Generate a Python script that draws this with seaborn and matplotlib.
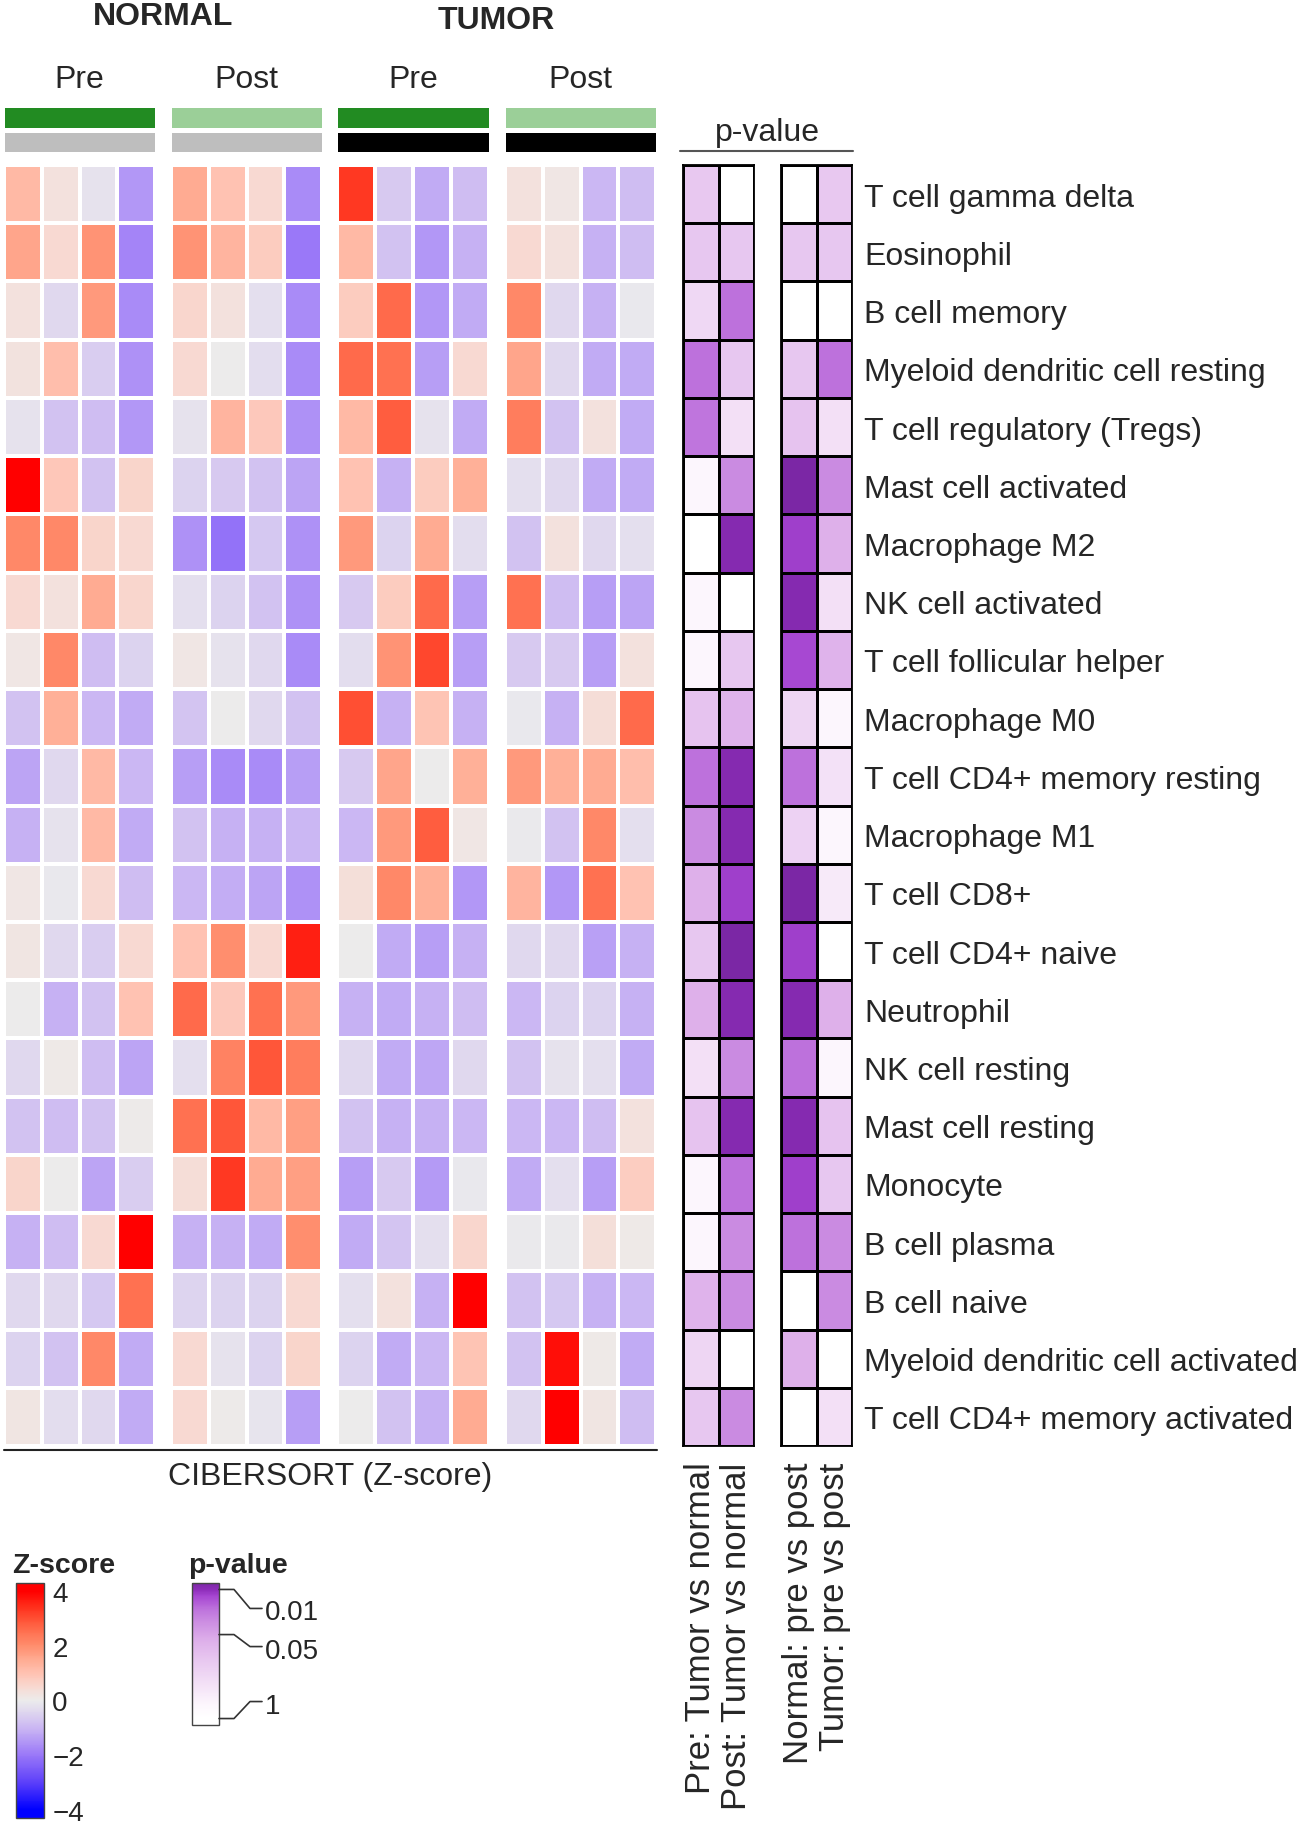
import matplotlib

matplotlib.use("Agg")

import matplotlib.pyplot as plt
import numpy as np
import seaborn as sns
from matplotlib.cm import ScalarMappable
from matplotlib.colors import LinearSegmentedColormap, ListedColormap, Normalize

sns.set_style("white")
plt.rcParams["font.family"] = ["Liberation Sans", "DejaVu Sans"]

W, H = 1304, 1824

# =========================
# Data
# =========================

cell_types = [
    "T cell gamma delta", "Eosinophil", "B cell memory",
    "Myeloid dendritic cell resting", "T cell regulatory (Tregs)",
    "Mast cell activated", "Macrophage M2", "NK cell activated",
    "T cell follicular helper", "Macrophage M0",
    "T cell CD4+ memory resting", "Macrophage M1", "T cell CD8+",
    "T cell CD4+ naive", "Neutrophil", "NK cell resting",
    "Mast cell resting", "Monocyte", "B cell plasma", "B cell naive",
    "Myeloid dendritic cell activated", "T cell CD4+ memory activated",
]

tissues = ["NORMAL", "NORMAL", "TUMOR", "TUMOR"]
timepoints = ["Pre", "Post", "Pre", "Post"]

# CIBERSORT z-scores, 4 samples per group
normal_pre = [
    [1.2, 0.3, -0.2, -1.5], [1.6, 0.5, 1.9, -1.8], [0.3, -0.4, 1.8, -1.7],
    [0.25, 1.1, -0.6, -1.6], [-0.2, -0.8, -0.9, -1.5], [4.0, 0.9, -0.8, 0.6],
    [2.1, 2.1, 0.6, 0.5], [0.5, 0.3, 1.5, 0.55], [0.15, 2.1, -0.9, -0.5],
    [-0.8, 1.4, -1.0, -1.2], [-1.3, -0.4, 1.2, -1.0], [-1.1, -0.2, 1.2, -1.2],
    [0.15, -0.1, 0.5, -0.9], [0.2, -0.4, -0.6, 0.5], [0.0, -1.1, -0.8, 1.0],
    [-0.4, 0.1, -0.9, -1.3], [-0.8, -0.9, -0.8, 0.05], [0.6, 0.0, -1.3, -0.6],
    [-1.1, -0.9, 0.5, 4.0], [-0.4, -0.4, -0.7, 2.5], [-0.5, -0.8, 2.1, -1.2],
    [0.2, -0.3, -0.4, -1.2],
]
normal_post = [
    [1.5, 1.0, 0.5, -1.7], [1.9, 1.3, 0.8, -2.0], [0.55, 0.3, -0.25, -1.7],
    [0.5, 0.0, -0.3, -1.7], [-0.2, 1.3, 0.85, -1.6], [-0.5, -0.65, -0.8, -1.3],
    [-1.6, -2.1, -0.7, -1.6], [-0.25, -0.5, -0.8, -1.6], [0.15, -0.2, -0.4, -1.7],
    [-0.75, 0.0, -0.4, -0.8], [-1.4, -1.7, -1.7, -1.4], [-0.8, -1.1, -1.1, -1.0],
    [-1.0, -1.15, -1.3, -1.6], [1.0, 2.0, 0.5, 3.6], [2.6, 0.85, 2.5, 1.8],
    [-0.25, 2.2, 2.9, 2.3], [2.5, 2.9, 1.2, 1.7], [0.4, 3.3, 1.5, 1.7],
    [-1.1, -1.1, -1.2, 2.0], [-0.45, -0.5, -0.5, 0.5], [0.5, -0.2, -0.5, 0.6],
    [0.5, 0.05, -0.15, -1.4],
]
tumor_pre = [
    [3.3, -0.65, -1.2, -0.9], [1.2, -0.8, -1.5, -1.1], [0.8, 2.6, -1.5, -1.2],
    [2.6, 2.5, -1.4, 0.5], [1.2, 2.8, -0.2, -1.2], [1.0, -1.1, 0.8, 1.4],
    [1.8, -0.5, 1.5, -0.3], [-0.65, 0.8, 2.6, -1.4], [-0.3, 1.9, 3.1, -1.4],
    [3.0, -1.1, 0.95, -1.1], [-0.65, 1.6, 0.0, 1.4], [-1.0, 1.8, 2.8, 0.15],
    [0.35, 2.1, 1.4, -1.5], [0.0, -1.2, -1.4, -1.1], [-1.1, -1.2, -1.1, -0.9],
    [-0.4, -1.2, -1.25, -0.4], [-0.8, -1.1, -1.1, -1.0], [-1.4, -0.65, -1.45, -0.1],
    [-1.2, -0.75, -0.25, 0.55], [-0.25, 0.3, -1.1, 4.0], [-0.5, -1.2, -1.0, 0.95],
    [0.0, -0.8, -1.1, 1.5],
]
tumor_post = [
    [0.3, 0.15, -1.0, -0.9], [0.5, 0.3, -1.1, -0.9], [2.1, -0.4, -1.1, -0.1],
    [1.6, -0.4, -1.2, -1.2], [2.3, -0.8, 0.3, -1.2], [-0.25, -0.4, -1.2, -1.2],
    [-0.8, 0.3, -0.4, -0.25], [2.5, -0.9, -1.4, -1.3], [-0.65, -0.65, -1.4, 0.3],
    [-0.1, -1.1, 0.4, 2.6], [1.8, 1.4, 1.5, 1.1], [-0.05, -0.8, 2.1, -0.25],
    [1.3, -1.5, 2.5, 1.0], [-0.4, -0.4, -1.35, -1.1], [-1.0, -0.5, -0.5, -1.1],
    [-0.8, -0.2, -0.25, -1.2], [-1.0, -1.0, -0.9, 0.3], [-1.2, -0.25, -1.4, 0.75],
    [-0.05, -0.05, 0.35, 0.1], [-0.8, -0.7, -1.1, -1.0], [-0.8, 3.8, 0.1, -1.2],
    [-0.4, 4.0, 0.2, -0.9],
]
groups = [normal_pre, normal_post, tumor_pre, tumor_post]

# p-values of the four comparisons
comparisons = ["Pre: Tumor vs normal", "Post: Tumor vs normal",
               "Normal: pre vs post", "Tumor: pre vs post"]
p_pre_tumor_vs_normal = [
    0.126, 0.12, 0.22, 0.02, 0.021, 0.6, 1, 0.6, 0.6, 0.11, 0.02,
    0.03, 0.063, 0.12, 0.063, 0.28, 0.11, 0.6, 0.6, 0.07, 0.2, 0.12,
]
p_post_tumor_vs_normal = [
    1, 0.12, 0.02, 0.12, 0.28, 0.03, 0.009, 1, 0.12, 0.07, 0.009,
    0.009, 0.012, 0.007, 0.009, 0.03, 0.009, 0.02, 0.03, 0.03, 1, 0.03,
]
p_normal_pre_vs_post = [
    1, 0.12, 1, 0.12, 0.11, 0.006, 0.012, 0.009, 0.013, 0.2, 0.02,
    0.18, 0.007, 0.012, 0.009, 0.02, 0.009, 0.012, 0.02, 1, 0.063, 1,
]
p_tumor_pre_vs_post = [
    0.126, 0.12, 1, 0.02, 0.28, 0.03, 0.063, 0.28, 0.07, 0.6, 0.3,
    0.6, 0.4, 1, 0.063, 0.6, 0.11, 0.12, 0.03, 0.03, 1, 0.28,
]
p_ticks = [0.01, 0.05, 1]

# =========================
# Colour scales
# =========================

z_min, z_max = -4.3, 4.3
z_anchors = [
    (-4.3, "#0000ff"), (-4, "#0000ff"), (-3, "#5d40fa"), (-2, "#9a78f8"),
    (-1, "#cbb7f3"), (-0.5, "#dcd2ef"), (0, "#ececec"), (0.5, "#f8d9d1"),
    (1, "#ffc2b2"), (1.5, "#ffab92"), (2, "#ff8e6e"), (2.5, "#ff7252"),
    (3, "#ff5034"), (3.5, "#ff2a18"), (4, "#ff0000"), (4.3, "#ff0000"),
]
z_cmap = LinearSegmentedColormap.from_list(
    "zscore", [((v - z_min) / (z_max - z_min), c) for v, c in z_anchors])

p_min, p_max = -0.1, 2.1  # in -log10(p)
p_anchors = [
    (-0.1, "#ffffff"), (0, "#ffffff"), (0.2, "#fdf7fd"), (0.6, "#f1dcf5"),
    (0.9, "#e8c8f0"), (1.2, "#deb0ea"), (1.5, "#cc8ee2"), (1.7, "#bd72dc"),
    (1.9, "#a646d2"), (2.0, "#8e2dba"), (2.1, "#7b27a5"),
]
p_cmap = LinearSegmentedColormap.from_list(
    "pval", [((v - p_min) / (p_max - p_min), c) for v, c in p_anchors])

annot_cmap = ListedColormap(["#228b22", "#9bcf98", "#bebebe", "#000000"])


def box(x0, y0, x1, y1):
    return [x0 / W, 1 - y1 / H, (x1 - x0) / W, (y1 - y0) / H]


fig = plt.figure(figsize=(W / 100, H / 100), dpi=100)

top, bottom = 166, 1447
group_x = [(4, 155), (171, 322), (337, 489), (505, 656)]

# =========================
# Z-score heatmaps
# =========================

for (x0, x1), vals, tissue, tp in zip(group_x, groups, tissues, timepoints):
    ax = fig.add_axes(box(x0, top, x1, bottom))
    sns.heatmap(np.array(vals), ax=ax, cmap=z_cmap, vmin=z_min, vmax=z_max,
                cbar=False, linewidths=1.5, linecolor="white",
                xticklabels=False, yticklabels=False)

    # annotation bars (timepoint + tissue)
    codes = np.array([[0 if tp == "Pre" else 1], [2 if tissue == "NORMAL" else 3]])
    ax_a = fig.add_axes(box(x0 - 2, 106, x1 + 2, 155))
    sns.heatmap(codes, ax=ax_a, cmap=annot_cmap, vmin=-0.5, vmax=3.5, cbar=False,
                linewidths=3.5, linecolor="white",
                xticklabels=False, yticklabels=False)

# =========================
# p-value heatmaps
# =========================

p_groups = [
    ((683, 754), [p_pre_tumor_vs_normal, p_post_tumor_vs_normal], comparisons[:2]),
    ((781, 852), [p_normal_pre_vs_post, p_tumor_pre_vs_post], comparisons[2:]),
]
for i, ((x0, x1), cols, labels) in enumerate(p_groups):
    ax = fig.add_axes(box(x0, top, x1, bottom))
    data = -np.log10(np.array(cols).T)
    sns.heatmap(data, ax=ax, cmap=p_cmap, vmin=p_min, vmax=p_max, cbar=False,
                linewidths=1.0, linecolor="black", xticklabels=labels,
                yticklabels=cell_types if i == 1 else False)
    for sp in ax.spines.values():
        sp.set_visible(True)
        sp.set_color("black")
        sp.set_linewidth(1.3)
    ax.set_xticklabels(labels, rotation=90, fontsize=25)
    ax.tick_params(axis="x", length=0, pad=11)
    if i == 1:
        ax.yaxis.tick_right()
        ax.set_yticklabels(cell_types, rotation=0, fontsize=23)
        ax.tick_params(axis="y", length=0, pad=9)

# =========================
# Legends
# =========================

cax = fig.add_axes(box(16, 1584, 44, 1819))
cb = fig.colorbar(ScalarMappable(norm=Normalize(z_min, z_max), cmap=z_cmap),
                  cax=cax, ticks=[-4, -2, 0, 2, 4])
cb.ax.tick_params(direction="in", length=8, width=2, color="white",
                  labelsize=20, pad=6)
cb.outline.set_edgecolor("#444444")
cb.outline.set_linewidth(1)

p_bar = (192, 1584, 219, 1726)
cax2 = fig.add_axes(box(*p_bar))
cb2 = fig.colorbar(ScalarMappable(norm=Normalize(p_min, p_max), cmap=p_cmap),
                   cax=cax2, ticks=[])
cb2.outline.set_edgecolor("#444444")
cb2.outline.set_linewidth(1)

# =========================
# Text and decorations
# =========================

ov = fig.add_axes([0, 0, 1, 1])
ov.set_xlim(0, W)
ov.set_ylim(H, 0)
ov.axis("off")

ov.text(163, 17, "NORMAL", ha="center", va="center", fontsize=23, fontweight="bold")
ov.text(496, 21, "TUMOR", ha="center", va="center", fontsize=23, fontweight="bold")
for (x0, x1), tp in zip(group_x, timepoints):
    ov.text((x0 + x1) / 2, 80, tp, ha="center", va="center", fontsize=23)

ov.text(767, 133, "p-value", ha="center", va="center", fontsize=23)
ov.plot([680, 853], [152, 152], color="#555555", lw=1.5)

ov.plot([4, 657], [1451, 1451], color="#222222", lw=1.5)
ov.text(330, 1477, "CIBERSORT (Z-score)", ha="center", va="center", fontsize=23)

ov.text(12, 1566, "Z-score", ha="left", va="center", fontsize=20.5, fontweight="bold")
ov.text(188, 1566, "p-value", ha="left", va="center", fontsize=20.5, fontweight="bold")

label_shift = [19, 12, -17]
for p, shift in zip(p_ticks, label_shift):
    v = -np.log10(p)
    ya = p_bar[3] - (v - p_min) / (p_max - p_min) * (p_bar[3] - p_bar[1])
    yl = ya + shift
    ov.plot([p_bar[2], 234, 250, 262], [ya, ya, yl, yl], color="#333333", lw=1.2)
    ov.text(265, yl + 4, f"{p:g}", ha="left", va="center", fontsize=20)

fig.savefig("out.png", dpi=100)
